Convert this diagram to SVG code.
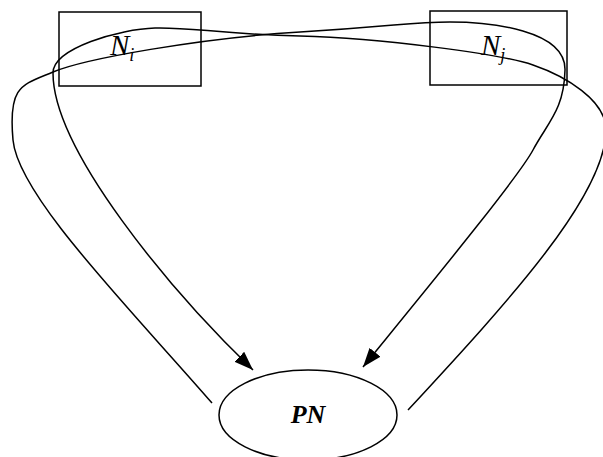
<svg xmlns="http://www.w3.org/2000/svg" width="603" height="457" viewBox="0 0 603 457">
<style>
.box{fill:#fff;stroke:#000;stroke-width:1.5}
.conn{fill:none;stroke:#000;stroke-width:1.5}
.lbl{font-family:"Liberation Serif","Times New Roman",serif;font-style:italic;fill:#000}
</style>
<defs>
<marker id="arr" markerUnits="userSpaceOnUse" markerWidth="20" markerHeight="15" refX="19" refY="7" orient="auto">
<path d="M0,0 L19,7 L0,14 z" fill="#000"/>
</marker>
</defs>
<g id="Ni">
<rect class="box" x="59" y="12" width="142" height="74"/>
<text class="lbl" x="110" y="55" font-size="29">N<tspan font-size="18" dy="6">i</tspan></text>
</g>
<g id="Nj">
<rect class="box" x="430" y="11" width="137" height="74"/>
<text class="lbl" x="481" y="55" font-size="29">N<tspan font-size="18" dy="6">j</tspan></text>
</g>
<g id="PN">
<ellipse class="box" cx="308" cy="415" rx="89" ry="45"/>
<text class="lbl" x="308" y="423" font-size="26" font-weight="bold" text-anchor="middle">PN</text>
</g>
<g id="connectors">
<path class="conn" marker-end="url(#arr)" d="M212,403 C125,303 18,195 13,140 S22,85 53,72 S200,38 300,32 S410,22 450,22 S566,30 565,70 S548,122 533,150 S424,292 363,367"/>
<path class="conn" marker-end="url(#arr)" d="M408,410 C509,301 606,195 606,130 C606,100 565,76 533,65 S380,38 300,36 S190,27 155,28 S53,48 53,73 C53,150 170,290 253,370"/>
</g>
</svg>
